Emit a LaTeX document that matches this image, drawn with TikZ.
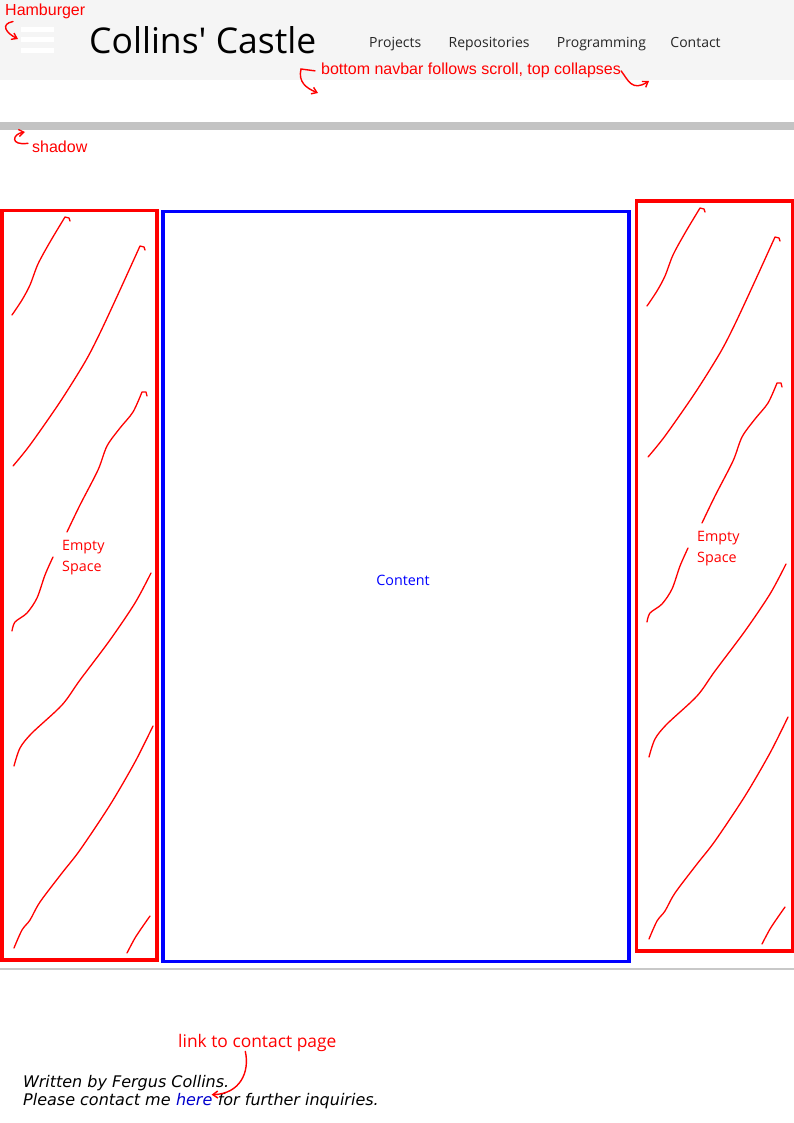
\documentclass[tikz,border=0pt]{standalone}
\usepackage{fontspec}
\setmainfont{Open Sans}
\newfontfamily\notefont{Liberation Sans}
\newfontfamily\footfont{DejaVu Sans}
\usepackage{xcolor}
\usetikzlibrary{arrows.meta, positioning, calc}

\definecolor{navgrey}{HTML}{F5F5F5}
\definecolor{shadowgrey}{HTML}{C3C3C3}
\definecolor{rulegrey}{HTML}{C8C8C8}
\definecolor{linkblue}{HTML}{0000CC}

\begin{document}
\begin{tikzpicture}[x=1pt, y=-1pt, >={Straight Barb[length=5pt, width=7pt]},
            note/.style={text=red, font=\notefont\fontsize{16}{19}\selectfont, inner sep=0pt},
            navitem/.style={text=black!85, font=\fontsize{14}{17}\selectfont, inner sep=0pt},
            panel/.style={draw, line width=3.5pt, inner sep=0pt},
            sidenote/.style={text=red, font=\fontsize{14.3}{21}\selectfont, align=left, inner sep=0pt},
            footline/.style={inner sep=0pt, font=\footfont\itshape\fontsize{16}{19}\selectfont},
            scrawl/.style={red, line width=1.3pt, line cap=round, line join=round},
            hand/.style={red, line width=1.4pt, ->, line cap=round},
            hatching/.pic={
                \draw[scrawl] plot[smooth] coordinates {(12,315) (22,300) (30,285) (38,264) (50,242) (65,217)} -- (69,218) -- (70,221);
                \draw[scrawl] plot[smooth] coordinates {(13,466) (30,445) (60,402) (85,362) (100,333) (120,290) (140,246)} -- (144,247) -- (145,250);
                \draw[scrawl] plot[smooth] coordinates {(67,532) (80,505) (98,470) (107,446) (120,428) (133,412) (142,392)} -- (146,392) -- (147,396);
                \draw[scrawl] plot[smooth] coordinates {(12,631) (15,622) (27,613) (37,598) (45,575) (53,557)};
                \draw[scrawl] plot[smooth] coordinates {(14,766) (20,748) (32,733) (62,705) (80,680) (110,640) (135,603) (151,573)};
                \draw[scrawl] plot[smooth] coordinates {(14,948) (22,930) (30,920) (40,902) (62,873) (80,850) (110,805) (135,762) (153,726)};
                \draw[scrawl] plot[smooth] coordinates {(127,953) (135,938) (143,926) (150,916)};
            }]

    \useasboundingbox (0,0) rectangle (794,1123);

    % navbar
    \fill[navgrey] (0,0) rectangle (794,80);
    \foreach \y in {27,37.5,48}
        \fill[white] (21,\y) rectangle (54,\y+5);
    \node[anchor=base west, inner sep=0pt, font=\fontsize{35.5}{40}\selectfont] (title) at (89,54) {Collins\textquotesingle\ Castle};

    \node[navitem, anchor=base west] (projects) at (369,48) {Projects};
    \node[navitem, base right=27pt of projects] (repos) {Repositories};
    \node[navitem, base right=27pt of repos] (prog) {Programming};
    \node[navitem, base right=24pt of prog] (contact) {Contact};

    % shadow under the navbar
    \fill[shadowgrey] (0,122) rectangle (794,130);

    % page body
    \node[panel, draw=red, minimum width=155pt, minimum height=749.5pt] (leftpad) at (79.5,585.25) {};
    \node[panel, draw=blue, minimum width=466pt, minimum height=750pt] (content) at (396,586.5) {};
    \node[panel, draw=red, minimum width=156pt, minimum height=750pt] (rightpad) at (714.5,576) {};

    \pic at (0,0) {hatching};
    \pic at (635,-9) {hatching};

    \node[text=blue, inner sep=0pt, font=\fontsize{14.3}{17}\selectfont, anchor=base] (contentlbl) at (403,585) {Content};
    \node[sidenote, anchor=base west] (leftlbl) at (62,571) {Empty\\Space};
    \node[sidenote, anchor=base west] (rightlbl) at (697,562) {Empty\\Space};

    % footer
    \draw[rulegrey, line width=1.5pt] (0,969) -- (794,969);
    \node[footline, anchor=base west] (written) at (23,1087) {Written by Fergus Collins.};
    \node[footline, anchor=base west] (please) at (23,1105) {Please contact me};
    \node[footline, base right=5pt of please, text=linkblue] (here) {here};
    \node[footline, base right=5pt of here] (further) {for further inquiries.};

    % annotations
    \node[note, anchor=base west] (hamnote) at (5,16) {Hamburger};
    \node[note, anchor=base west] (navnote) at (321,75) {bottom navbar follows scroll, top collapses};
    \node[note, anchor=base west] (shadownote) at (32,153) {shadow};
    \node[text=red, inner sep=0pt, font=\fontsize{17.4}{20}\selectfont, anchor=base west] (linknote) at (178,1047) {link to contact page};

    \coordinate (hamicon) at (18,39);
    \coordinate (navleft) at (318,93);
    \coordinate (navright) at (649,81);
    \coordinate (shadowbar) at (25,132);

    \draw[hand] ([xshift=8pt, yshift=-2pt]hamnote.south west) .. controls (0,24) and (6,33) .. (hamicon);
    \draw[hand] ([xshift=-6pt]navnote.west) -- (301,69) .. controls (298,82) and (306,88) .. (navleft);
    \draw[hand] (navnote.east) .. controls (628,80) and (632,92) .. (navright);
    \draw[hand] ([xshift=-4pt, yshift=4pt]shadownote.west) .. controls (10,146) and (12,134) .. (shadowbar);
    \draw[hand] ([xshift=-12pt]linknote.south) .. controls (250,1072) and (240,1094) .. ([xshift=-1pt, yshift=-2pt]here.north east);
\end{tikzpicture}
\end{document}
